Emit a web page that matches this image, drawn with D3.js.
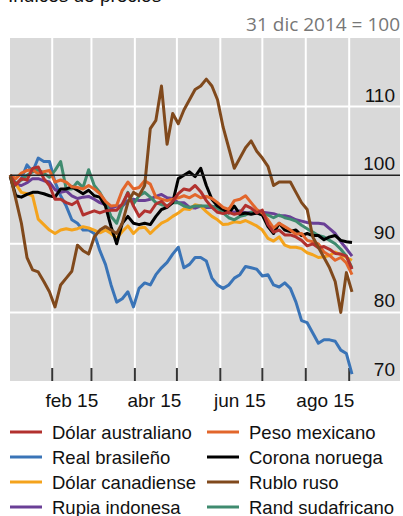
<!DOCTYPE html>
<html>
<head>
<meta charset="utf-8">
<script src="https://cdn.jsdelivr.net/npm/d3@7"></script>
<style>
  body { margin: 0; background: #fff; }
  svg { display: block; }
</style>
</head>
<body>
<div id="chart"></div>
<script>
// fechas de observación (cada 4 días)
const dates = [
  "2015-01-02","2015-01-06","2015-01-10","2015-01-14","2015-01-18","2015-01-22","2015-01-26","2015-01-30",
  "2015-02-03","2015-02-07","2015-02-11","2015-02-15","2015-02-19","2015-02-23","2015-02-27",
  "2015-03-03","2015-03-07","2015-03-11","2015-03-15","2015-03-19","2015-03-23","2015-03-27","2015-03-31",
  "2015-04-04","2015-04-08","2015-04-12","2015-04-16","2015-04-20","2015-04-24","2015-04-28",
  "2015-05-02","2015-05-06","2015-05-10","2015-05-14","2015-05-18","2015-05-22","2015-05-26","2015-05-30",
  "2015-06-03","2015-06-07","2015-06-11","2015-06-15","2015-06-19","2015-06-23","2015-06-27",
  "2015-07-01","2015-07-05","2015-07-09","2015-07-13","2015-07-17","2015-07-21","2015-07-25","2015-07-29",
  "2015-08-02","2015-08-06","2015-08-10","2015-08-14","2015-08-18","2015-08-22","2015-08-26","2015-08-30",
  "2015-09-03"
];

const dolarAustraliano = [100,98.6,99.5,99.3,101,101.2,99.5,98.5,96.5,96.5,96,95.7,96.2,94.2,94.5,94.8,94.5,94.8,94.9,94.9,95.8,97.4,95.5,94,94.8,94.6,95.8,96.2,95.4,96.2,97.3,98,97.8,98.5,97.6,96.3,95.3,94.6,94.4,94.6,94.3,94.5,95.6,95.2,94.5,94.9,92.8,91.7,92,91.3,91.3,91,90.5,89.7,90,89.4,89.6,89.2,88.6,88.5,88.2,86.3];
const realBrasileno = [99.8,98.5,99.5,101.5,100.5,102.5,102,102,99,97,95.5,93.5,93,92,92,91.5,89,87,84,81.5,82,83,80.8,83.5,84.3,84,85.5,86.5,87.3,88.5,89.5,86.5,87,88,88,87.5,85,84,83.5,84,85,85.5,86.7,86.5,86.3,85.3,85.5,84,83.7,84.3,83.5,81.5,78.8,78.5,77,75.5,76,76,75.8,74.5,74,71];
const dolarCanadiense = [100,98.7,97.5,97.3,97,93.6,92.8,92,91.5,92,92.2,92,92.2,92.5,92.3,92,91.6,92,91.5,90.8,91.8,92.6,91.5,92.3,92.4,91.5,92.3,93,93.4,94,94.5,95.1,95,95.7,95.5,94.7,94,93.5,92.8,92.9,93.2,93.1,93.4,93,92.6,92,90.8,90.4,91,89.8,89.5,89.5,89.3,88.7,88.4,88,88.1,88.3,88.8,88.4,88,87.6];
const rupiaIndonesa = [100,98.6,98.5,98.9,99.5,99.5,99.2,99,97.9,97.5,97.7,97,96.6,96.8,96.9,96.5,96,95.7,95.2,95.5,95.5,96.3,96.5,96.3,96.3,96.5,96.9,97.2,96.7,96.6,96,96,95.3,95.2,95.5,95.3,95.3,95.5,95.2,94.8,94.6,94.8,94.5,94.6,94.5,94.6,94.5,94.4,94.1,94.1,93.9,93.5,93.3,93.1,93,93,92.9,92.2,91.5,90.3,89.3,88.2];
const pesoMexicano = [100,99.5,100.3,100.7,100.8,100.2,100.5,100.7,99,99.3,99,98.3,98.2,98,98.5,98,97.3,96.2,95.5,95.6,97.8,99,98,98.2,99.2,98.7,96.8,96.5,96.3,96.5,96.7,97,96.7,97.2,96.7,96.9,96.6,96,95.3,95,96.3,96.5,97,96,95,94.5,93.5,92.3,93,92.5,92,91.4,91.5,90.5,90.3,90,88.8,88.3,87.6,88,87.2,85.5];
const coronaNoruega = [99.8,97,96.8,97.2,97.5,97.5,97.3,97,96.8,98,98,98.3,97.8,97.3,97.8,97,96.8,95.5,92.5,90,93,94,93,92.8,93,92.8,94,95,95.3,96,99.5,100,100.5,99.8,101,98.5,96.5,95.5,95,94.5,95.5,94.3,94.5,94.3,94.5,94.2,92.5,91.5,93,92,91.8,92,91.2,91.5,91.2,91.2,90.6,91,91.2,90.5,90.3,90.2];
const rubloRuso = [100,96.5,93,88,86.2,85.9,84.5,83,80.8,84,85,86,89.8,89,88.5,91,92,92.5,92,91.5,93,96,97.5,97,98.5,106.8,108,113,104.5,109,107.5,109.5,111,112.5,113,114,113,111,107,104,101,102.5,104,105,103.5,102.5,101.3,98.5,99,99,99,97.5,96,95,91,89.5,88,86.5,84.5,80,85.8,83];
const randSudafricano = [100,98.8,99.3,100,100.5,100.8,100.3,99.7,100.7,102,98,98,99,98.2,100.8,98.5,97.5,96,94,93,95.5,97.5,95.8,97,97.5,96.8,96,95.7,95.5,96,96,95.5,95.3,95.5,95.5,95.5,95.5,95.2,94.5,93.8,93.5,94,94.2,94.6,94.6,94.2,94.2,93.8,94.2,93.8,93.6,93.3,92.7,92.2,91.7,91.2,91,90.5,90,89.2,88.2,86.5];

const yTicks = [70, 80, 90, 100, 110];
const xLabels = [["2015-02-15", "feb 15"], ["2015-04-15", "abr 15"], ["2015-06-15", "jun 15"], ["2015-08-15", "ago 15"]];

// nombre, valores, color (orden de dibujo)
const series = [
  { name: "Real brasileño", values: realBrasileno, color: "#3a74b7" },
  { name: "Rupia indonesa", values: rupiaIndonesa, color: "#6a3f96" },
  { name: "Dólar canadiense", values: dolarCanadiense, color: "#f4a31c" },
  { name: "Rand sudafricano", values: randSudafricano, color: "#3f8b6f" },
  { name: "Corona noruega", values: coronaNoruega, color: "#000000" },
  { name: "Peso mexicano", values: pesoMexicano, color: "#e2662b" },
  { name: "Dólar australiano", values: dolarAustraliano, color: "#b2312e" },
  { name: "Rublo ruso", values: rubloRuso, color: "#80491c" }
];
const legendOrder = ["Dólar australiano", "Peso mexicano", "Real brasileño", "Corona noruega",
  "Dólar canadiense", "Rublo ruso", "Rupia indonesa", "Rand sudafricano"];

const W = 403, H = 516;
const plotL = 10, plotR = 400, plotT = 38, plotB = 381;
const parse = d3.timeParse("%Y-%m-%d");
const dateObjs = dates.map(parse);

const svg = d3.select("#chart").append("svg")
  .attr("width", W).attr("height", H)
  .style("font-family", "'Liberation Sans', Arial, sans-serif");

const x = d3.scaleTime()
  .domain([dateObjs[0], dateObjs[dateObjs.length - 1]])
  .range([10.2, 352]);
const y = d3.scaleLinear().domain([70, 120]).range([plotB, plotT]);

// title (cut off at top)
svg.append("text")
  .attr("x", 8).attr("y", 2)
  .attr("font-size", 19).attr("fill", "#111")
  .text("Índices de precios");

svg.append("text")
  .attr("x", 400).attr("y", 31)
  .attr("text-anchor", "end")
  .attr("font-size", 19)
  .attr("font-family", "'Open Sans', 'Noto Sans', sans-serif")
  .attr("fill", "#777")
  .text("31 dic 2014 = 100");

svg.append("rect")
  .attr("x", plotL).attr("y", plotT)
  .attr("width", plotR - plotL).attr("height", plotB - plotT)
  .attr("fill", "#d9d9d9");

const months = d3.timeMonth.range(parse("2015-02-01"), parse("2015-09-02"));

svg.append("g").selectAll("line")
  .data(months)
  .join("line")
  .attr("x1", d => x(d)).attr("x2", d => x(d))
  .attr("y1", plotT).attr("y2", plotB)
  .attr("stroke", "#fff").attr("stroke-width", 2);

svg.append("g").selectAll("line")
  .data(yTicks.filter(d => d !== 100 && d !== 70))
  .join("line")
  .attr("x1", plotL).attr("x2", plotR)
  .attr("y1", d => y(d)).attr("y2", d => y(d))
  .attr("stroke", "#fff").attr("stroke-width", 2);

// ticks at bottom, inside plot
svg.append("g").selectAll("line")
  .data(months)
  .join("line")
  .attr("x1", d => x(d)).attr("x2", d => x(d))
  .attr("y1", plotB - 13).attr("y2", plotB)
  .attr("stroke", "#333").attr("stroke-width", 2);

svg.append("g").selectAll("text")
  .data(yTicks)
  .join("text")
  .attr("x", 395).attr("y", d => y(d) - 5)
  .attr("text-anchor", "end")
  .attr("font-size", 19).attr("fill", "#111")
  .text(d => d);

svg.append("g").selectAll("text")
  .data(xLabels)
  .join("text")
  .attr("x", d => x(parse(d[0])))
  .attr("y", 407)
  .attr("text-anchor", "middle")
  .attr("font-size", 19).attr("fill", "#111")
  .text(d => d[1]);

const line = d3.line()
  .x((d, i) => x(dateObjs[i]))
  .y(d => y(d));

svg.append("g").selectAll("path")
  .data(series)
  .join("path")
  .attr("d", d => line(d.values))
  .attr("fill", "none")
  .attr("stroke", d => d.color)
  .attr("stroke-width", 3)
  .attr("stroke-linejoin", "round");

// 100 reference line
svg.append("line")
  .attr("x1", plotL).attr("x2", plotR)
  .attr("y1", y(100)).attr("y2", y(100))
  .attr("stroke", "#222").attr("stroke-width", 1.5);

// legend
const leg = svg.append("g").selectAll("g")
  .data(legendOrder)
  .join("g")
  .attr("transform", (d, i) => `translate(${i % 2 ? 207 : 10},${432 + Math.floor(i / 2) * 25})`);

leg.append("line")
  .attr("x1", 0).attr("x2", 32)
  .attr("stroke", d => series.find(s => s.name === d).color)
  .attr("stroke-width", 3);

leg.append("text")
  .attr("x", 42).attr("y", 6.5)
  .attr("font-size", 18.5).attr("fill", "#111")
  .text(d => d);
</script>
</body>
</html>
